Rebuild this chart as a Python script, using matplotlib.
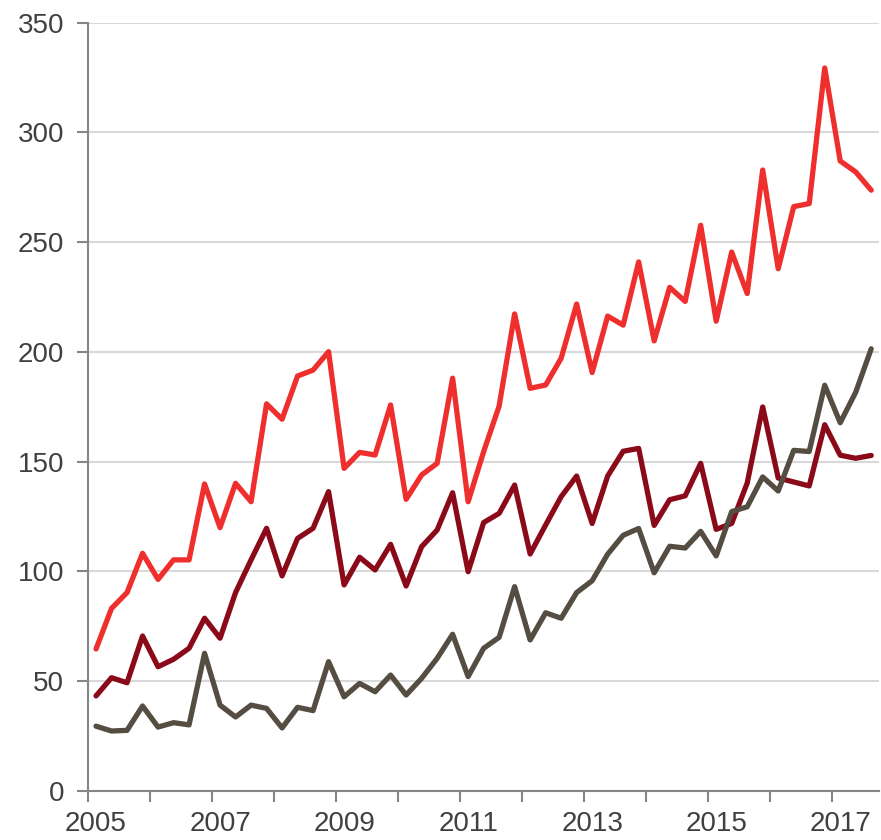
import matplotlib
matplotlib.use("Agg")
import matplotlib.pyplot as plt
import numpy as np

plt.rcParams['font.family'] = ['Liberation Sans', 'DejaVu Sans']

# Quarterly data, 2005 Q1 .. 2017 Q3
years = ["2005", "2007", "2009", "2011", "2013", "2015", "2017"]

series_red = [64.6, 83.1, 90.3, 108.2, 96.3, 105.2, 105.2, 139.8, 119.9, 140.1,
              131.7, 176.3, 169.3, 189.0, 191.7, 200.1, 146.9, 154.2, 153.0, 175.8,
              132.8, 143.9, 149.2, 188.0, 131.7, 154.5, 175.3, 217.3, 183.4, 184.9,
              197.1, 221.8, 190.6, 216.3, 212.2, 241.0, 205.0, 229.4, 223.0, 257.7,
              214.0, 245.5, 226.6, 282.9, 237.9, 266.2, 267.6, 329.4, 287.0, 282.0,
              273.7]

series_darkred = [43.2, 51.5, 49.2, 70.5, 56.5, 59.9, 64.9, 78.6, 69.5, 90.3,
                  105.2, 119.6, 97.9, 115.0, 119.6, 136.3, 93.8, 106.4, 100.6, 112.3,
                  93.3, 111.2, 118.8, 135.8, 99.8, 122.2, 126.4, 139.3, 107.9, 121.1,
                  134.0, 143.4, 121.8, 143.4, 154.7, 156.0, 120.9, 132.6, 134.4, 149.2,
                  119.1, 121.8, 140.2, 174.9, 142.5, 140.7, 138.9, 166.8, 152.9, 151.5,
                  152.8]

series_gray = [29.4, 27.2, 27.5, 38.6, 29.0, 31.0, 30.0, 62.6, 39.0, 33.6,
               39.0, 37.5, 28.6, 38.0, 36.5, 58.8, 42.8, 48.9, 45.1, 52.7,
               43.6, 51.2, 60.3, 71.3, 52.0, 64.9, 69.9, 93.0, 68.7, 81.1,
               78.6, 90.3, 95.7, 107.8, 116.4, 119.5, 99.3, 111.4, 110.6, 118.2,
               107.0, 127.2, 129.4, 143.0, 136.6, 155.1, 154.6, 184.8, 167.7, 181.6,
               201.4]

yticks = [0, 50, 100, 150, 200, 250, 300, 350]

n = len(series_red)
x = np.arange(n)

fig = plt.figure(figsize=(8.81, 8.40), dpi=100)
ax = fig.add_axes([0.1002, 0.0587, 0.8975, 0.9142])

line_kw = dict(linewidth=3.8, solid_capstyle='round', solid_joinstyle='round')
ax.plot(x, series_darkred, color='#8B0A19', zorder=3, **line_kw)
ax.plot(x, series_gray, color='#554D42', zorder=4, **line_kw)
ax.plot(x, series_red, color='#EE2F2D', zorder=5, **line_kw)

ax.set_xlim(-0.5, n - 0.5)
ax.set_ylim(0, 350)

ax.set_yticks(yticks)
ax.set_yticklabels([str(v) for v in yticks])
ax.yaxis.grid(True, color='#D9D9D9', linewidth=1.5)
ax.set_axisbelow(True)

# major ticks for labels (no tick marks), minor ticks at year boundaries
ax.set_xticks(np.arange(0, n, 8))
ax.set_xticklabels(years)
ax.set_xticks(np.arange(-0.5, n - 0.5, 4), minor=True)
ax.tick_params(axis='x', which='major', length=0, pad=14.5, labelsize=20, labelcolor='#404040')
ax.tick_params(axis='x', which='minor', length=8, width=1.5, color='#868686', direction='out')
ax.tick_params(axis='y', which='major', length=8, width=1.5, color='#868686', pad=9.5,
               labelsize=20, labelcolor='#404040')

for s in ['top', 'right']:
    ax.spines[s].set_visible(False)
for s in ['left', 'bottom']:
    ax.spines[s].set_color('#868686')
    ax.spines[s].set_linewidth(1.5)

fig.savefig('out.png', dpi=100, facecolor='white')
